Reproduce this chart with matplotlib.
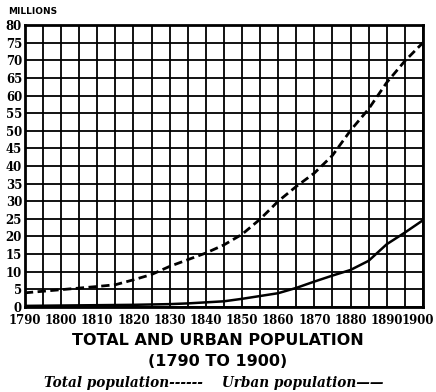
import matplotlib.pyplot as plt
import matplotlib.transforms as mtransforms
import numpy as np

# census years and population in millions
years = [1790, 1800, 1810, 1815, 1820, 1825, 1830, 1835, 1840, 1845, 1850,
         1855, 1860, 1865, 1870, 1875, 1880, 1885, 1890, 1895, 1900]
total_pop = [4.0, 4.9, 5.8, 6.3, 7.7, 9.2, 11.5, 13.4, 15.3, 17.6, 20.6,
             24.9, 30.0, 34.2, 38.0, 43.0, 50.1, 56.2, 63.7, 69.8, 75.0]
urban_pop = [0.3, 0.4, 0.5, 0.55, 0.6, 0.7, 0.8, 1.0, 1.3, 1.6, 2.3,
             3.1, 3.9, 5.4, 7.2, 8.9, 10.5, 13.1, 17.8, 21.1, 24.6]

x_labels = [str(y) for y in range(1790, 1901, 10)]
y_labels = [str(v) for v in range(0, 81, 5)]

fig = plt.figure(figsize=(4.36, 3.92), dpi=100)
ax = fig.add_axes([0.057, 0.217, 0.913, 0.719])

ax.plot(years, total_pop, color='black', lw=2.0, ls=(0, (3.0, 1.6)))
ax.plot(years, urban_pop, color='black', lw=1.8)

ax.set_xlim(1790, 1900)
ax.set_ylim(0, 80)
ax.set_xticks(range(1790, 1901, 10))
ax.set_xticklabels(x_labels)
ax.set_xticks(range(1795, 1900, 10), minor=True)
ax.set_yticks(range(0, 81, 5))
ax.set_yticklabels(y_labels)
ax.grid(True, which='both', color='black', lw=1.3)
ax.tick_params(which='both', length=0)
ax.tick_params(axis='x', pad=5)
ax.tick_params(axis='y', pad=2)
for lbl in ax.get_xticklabels() + ax.get_yticklabels():
    lbl.set_fontfamily('DejaVu Serif')
    lbl.set_fontweight('bold')
    lbl.set_fontsize(8.5)
# nudge the last year label so it stays on the sheet
last = ax.get_xticklabels()[-1]
last.set_transform(last.get_transform() +
                   mtransforms.ScaledTranslation(-0.05, 0, fig.dpi_scale_trans))
for s in ax.spines.values():
    s.set_linewidth(2)

fig.text(0.018, 0.97, 'MILLIONS', fontsize=6.5, fontweight='bold',
         family='DejaVu Sans', va='center')
fig.text(0.5, 0.132, 'TOTAL AND URBAN POPULATION', fontsize=11.5,
         fontweight='bold', family='DejaVu Sans', ha='center', va='center')
fig.text(0.5, 0.077, '(1790 TO 1900)', fontsize=11.5,
         fontweight='bold', family='DejaVu Sans', ha='center', va='center')
fig.text(0.49, 0.022, 'Total population------    Urban population\u2014\u2014',
         fontsize=9.8, fontweight='bold', style='italic', family='DejaVu Serif',
         ha='center', va='center')

fig.savefig('out.png', dpi=100)
